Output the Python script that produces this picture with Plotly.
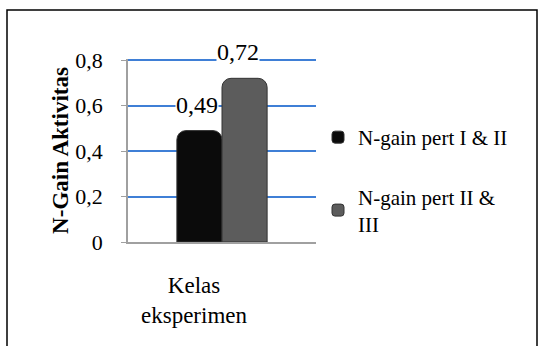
import plotly.graph_objects as go

categories = ["Kelas<br>eksperimen"]
series_names = ["N-gain pert I & II", "N-gain pert II &<br>III"]
series_values = [[0.49], [0.72]]
series_labels = ["0,49", "0,72"]
series_colors = ["#0b0b0b", "#5c5c5c"]
tick_vals = [0, 0.2, 0.4, 0.6, 0.8]
tick_text = ["0", "0,2", "0,4", "0,6", "0,8"]

SERIF = "Liberation Serif"
W, H = 544, 346
L, R, T, B = 128, 228, 59, 104
pw, ph = W - L - R, H - T - B

def px_x(x):
    return (x - L) / pw

def px_y(y):
    return (H - B - y) / ph

label_xshift = [-25, 16]

fig = go.Figure()
for name, vals, lab, col, dx in zip(series_names, series_values, series_labels,
                                     series_colors, label_xshift):
    fig.add_trace(go.Bar(
        x=categories, y=vals, name=name,
        marker=dict(color=col, line=dict(color="#333333", width=1)),
        legendgroup=name, hoverinfo="skip",
    ))
    fig.add_annotation(x=categories[0], y=vals[0], xref="x", yref="y",
                       text=lab, showarrow=False, xshift=dx, yshift=26,
                       bgcolor="white", borderpad=0,
                       font=dict(family=SERIF, size=24, color="black"))

fig.update_layout(
    width=W, height=H,
    margin=dict(l=L, r=R, t=T, b=B),
    paper_bgcolor="white", plot_bgcolor="white",
    barmode="group", bargap=0.52, bargroupgap=0.0,
    barcornerradius=9,
    font=dict(family=SERIF, size=22, color="black"),
    xaxis=dict(showline=True, linecolor="#a0a0a0", linewidth=1.5,
               tickfont=dict(family=SERIF, size=23), ticks="",
               ticklabelstandoff=22, ticklabelshift=-28),
    yaxis=dict(range=[0, 0.805], tickvals=tick_vals, ticktext=tick_text,
               showgrid=True, gridcolor="#3f7fd6", gridwidth=1.5,
               showline=True, linecolor="#a0a0a0", linewidth=1.5,
               ticks="outside", ticklen=5, tickcolor="#a0a0a0",
               tickfont=dict(family=SERIF, size=22), ticklabelstandoff=14,
               title=dict(text="<b>N-Gain Aktivitas</b>", font=dict(family=SERIF, size=23), standoff=0),
               zeroline=False),
    showlegend=True,
    legend=dict(x=px_x(318), y=px_y(117), xanchor="left", yanchor="top",
                font=dict(family=SERIF, size=21), tracegroupgap=29, bgcolor="rgba(0,0,0,0)",
                itemwidth=30),
)

fig.add_shape(type="rect", xref="paper", yref="paper",
              x0=px_x(7), x1=px_x(537), y0=px_y(349), y1=px_y(10),
              line=dict(color="black", width=1.5), fillcolor="rgba(0,0,0,0)", layer="below")

fig.write_html("out.html", config={"displayModeBar": False},
               post_script="document.body.style.margin='0';")
